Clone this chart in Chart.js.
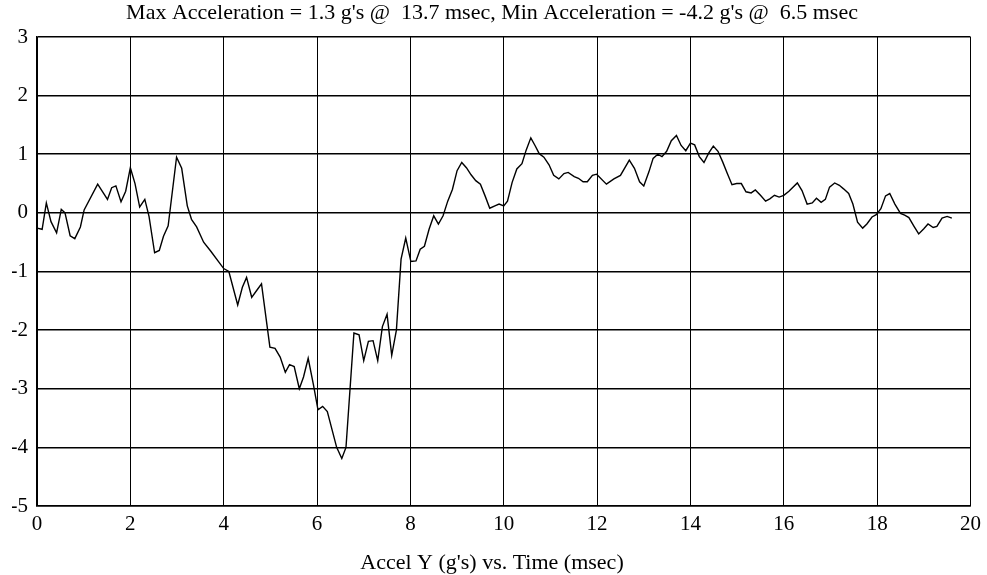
<!DOCTYPE html>
<html>
<head>
<meta charset="utf-8">
<script src="https://cdn.jsdelivr.net/npm/chart.js@4/dist/chart.umd.min.js"></script>
<style>
  html, body { margin: 0; padding: 0; background: #fff; }
  #wrap { width: 987px; height: 575px; position: relative; }
</style>
</head>
<body>
<div id="wrap"><canvas id="c" width="987" height="575"></canvas></div>
<script>
const titleText = "Max Acceleration = 1.3 g's @  13.7 msec, Min Acceleration = -4.2 g's @  6.5 msec";
const xAxisTitle = "Accel Y (g's) vs. Time (msec)";
const timeMs = [
  0.00,0.11,0.20,0.30,0.42,0.52,0.60,0.71,0.81,0.93,1.01,1.30,1.51,1.60,1.69,1.80,1.90,
  2.00,2.10,2.20,2.31,2.40,2.52,2.62,2.71,2.81,2.99,3.10,3.22,3.31,3.42,3.57,3.72,
  4.00,4.11,4.30,4.40,4.49,4.60,4.71,4.81,4.99,5.10,5.21,5.32,5.41,5.51,5.62,5.71,5.81,5.92,
  6.02,6.12,6.22,6.42,6.53,6.62,6.79,6.90,7.00,7.10,7.20,7.30,7.40,7.50,7.60,7.70,7.80,7.90,
  8.01,8.12,8.21,8.30,8.40,8.50,8.60,8.70,8.80,8.90,9.00,9.10,9.20,9.30,9.40,9.50,9.60,9.70,9.81,9.90,
  10.00,10.08,10.18,10.28,10.39,10.48,10.58,10.67,10.76,10.86,10.97,11.07,11.18,11.29,11.38,11.51,11.60,11.70,11.79,11.90,
  11.99,12.20,12.36,12.50,12.69,12.80,12.91,13.00,13.11,13.20,13.30,13.39,13.49,13.59,13.70,13.80,13.90,
  14.00,14.09,14.19,14.29,14.39,14.49,14.59,14.69,14.79,14.89,14.99,15.09,15.19,15.30,15.39,15.50,15.61,15.70,15.80,15.90,
  16.00,16.11,16.29,16.39,16.50,16.61,16.70,16.80,16.89,16.98,17.09,17.19,17.28,17.39,17.48,17.58,17.69,17.78,17.89,17.98,
  18.08,18.18,18.27,18.38,18.50,18.59,18.68,18.79,18.89,19.00,19.09,19.20,19.28,19.39,19.50,19.60
];
const accelG = [
  -0.26,-0.28,0.17,-0.15,-0.34,0.06,0.00,-0.39,-0.44,-0.24,0.05,0.49,0.23,0.43,0.46,0.19,0.37,
  0.77,0.50,0.10,0.23,-0.06,-0.68,-0.64,-0.40,-0.22,0.95,0.76,0.12,-0.11,-0.24,-0.50,-0.65,
  -0.95,-1.00,-1.57,-1.27,-1.10,-1.44,-1.32,-1.21,-2.29,-2.31,-2.46,-2.72,-2.59,-2.62,-3.00,-2.80,-2.48,-2.92,
  -3.36,-3.30,-3.39,-4.00,-4.19,-4.00,-2.05,-2.08,-2.52,-2.19,-2.18,-2.52,-1.94,-1.73,-2.43,-2.00,-0.79,-0.43,
  -0.83,-0.82,-0.62,-0.57,-0.28,-0.05,-0.19,-0.05,0.20,0.40,0.72,0.86,0.77,0.65,0.55,0.49,0.29,0.08,0.12,0.15,
  0.12,0.20,0.52,0.75,0.84,1.07,1.28,1.15,1.01,0.95,0.82,0.64,0.58,0.67,0.69,0.62,0.59,0.53,0.53,0.64,
  0.66,0.49,0.58,0.64,0.90,0.76,0.53,0.46,0.70,0.93,1.00,0.96,1.05,1.23,1.32,1.15,1.06,
  1.19,1.16,0.96,0.86,1.02,1.14,1.05,0.87,0.67,0.48,0.50,0.50,0.36,0.34,0.39,0.30,0.20,0.24,0.30,0.27,
  0.30,0.37,0.51,0.38,0.15,0.17,0.25,0.18,0.23,0.44,0.51,0.47,0.41,0.33,0.15,-0.16,-0.26,-0.19,-0.07,-0.03,
  0.07,0.29,0.33,0.15,-0.01,-0.04,-0.08,-0.23,-0.36,-0.27,-0.19,-0.25,-0.23,-0.09,-0.06,-0.09
];
const xRange = [0, 20];
const xStep = 2;
const yRange = [-5, 3];
const yStep = 1;

const points = timeMs.map((t, i) => ({ x: t, y: accelG[i] }));

Chart.defaults.font.family = "'Liberation Serif', 'Times New Roman', serif";
Chart.defaults.color = '#000';

new Chart(document.getElementById('c'), {
  type: 'scatter',
  data: {
    datasets: [{
      data: points,
      showLine: true,
      borderColor: '#000',
      borderWidth: 1.4,
      pointRadius: 0,
      tension: 0,
      fill: false
    }]
  },
  options: {
    responsive: false,
    animation: false,
    devicePixelRatio: 1,
    layout: { padding: { left: 12, right: 15, top: 0, bottom: 0 } },
    plugins: {
      legend: { display: false },
      tooltip: { enabled: false },
      title: {
        display: true,
        text: titleText,
        color: '#000',
        font: { size: 22, weight: 'normal', lineHeight: 1.2 },
        padding: { top: 0.5, bottom: 10.1 }
      },
      subtitle: {
        display: true,
        position: 'bottom',
        text: xAxisTitle,
        color: '#000',
        font: { size: 22, weight: 'normal', lineHeight: 1.0 },
        padding: { top: 0, bottom: 1 }
      }
    },
    scales: {
      x: {
        type: 'linear',
        min: xRange[0], max: xRange[1],
        afterFit: s => { s.height = 46; },
        ticks: { stepSize: xStep, color: '#000', font: { size: 21 }, padding: 6, maxRotation: 0 },
        grid: { color: '#000', lineWidth: 1, drawTicks: false },
        border: { color: '#000', width: 1.5 }
      },
      y: {
        type: 'linear',
        min: yRange[0], max: yRange[1],
        afterFit: s => { s.width = 25; },
        ticks: { stepSize: yStep, color: '#000', font: { size: 21 }, padding: 9 },
        grid: { color: '#000', lineWidth: 1.6, drawTicks: false },
        border: { color: '#000', width: 1.5 }
      }
    }
  }
});
</script>
</body>
</html>
